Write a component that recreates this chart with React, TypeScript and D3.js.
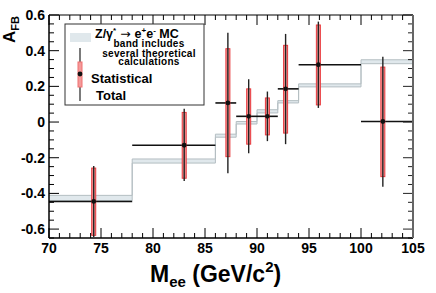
import * as d3 from 'd3'

// bin edges in Mee (GeV/c^2)
const binEdges = [70, 78, 86, 88, 90, 92, 94, 100, 105]
// MC band (Z/gamma* -> ee), low/high per bin
const mcLow = [-0.44, -0.23, -0.085, -0.011, 0.051, 0.107, 0.197, 0.327]
const mcHigh = [-0.411, -0.207, -0.068, 0.003, 0.069, 0.12, 0.214, 0.349]

// measured points
const massCenters = [74.3, 83.0, 87.2, 89.2, 91.0, 92.75, 95.9, 102.1]
const afb = [-0.445, -0.13, 0.107, 0.032, 0.032, 0.186, 0.321, 0.003]
const statLow = [-0.635, -0.315, -0.194, -0.124, -0.072, -0.062, 0.096, -0.306]
const statHigh = [-0.258, 0.054, 0.411, 0.186, 0.135, 0.43, 0.544, 0.308]
const totalLow = [-0.645, -0.33, -0.287, -0.175, -0.107, -0.124, 0.079, -0.363]
const totalHigh = [-0.246, 0.075, 0.501, 0.24, 0.171, 0.494, 0.563, 0.366]

const xTicks = [70, 75, 80, 85, 90, 95, 100, 105]
const yTicks = [-0.6, -0.4, -0.2, 0, 0.2, 0.4, 0.6]

const W = 436
const H = 293
const left = 49
const right = 413
const top = 15
const bottom = 238
const font = '"Liberation Sans", Arial, Helvetica, sans-serif'

export default function App() {
  const x = d3.scaleLinear().domain([70, 105]).range([left, right])
  const y = d3.scaleLinear().domain([-0.65, 0.6]).range([bottom, top])

  const bandPts = binEdges.map((e, i) => ({
    x: e,
    lo: mcLow[Math.min(i, mcLow.length - 1)],
    hi: mcHigh[Math.min(i, mcHigh.length - 1)],
  }))
  const area = d3
    .area<{ x: number; lo: number; hi: number }>()
    .x((d) => x(d.x))
    .y0((d) => y(d.lo))
    .y1((d) => y(d.hi))
    .curve(d3.curveStepAfter)
  const lineLo = d3
    .line<{ x: number; lo: number; hi: number }>()
    .x((d) => x(d.x))
    .y((d) => y(d.lo))
    .curve(d3.curveStepAfter)
  const lineHi = d3
    .line<{ x: number; lo: number; hi: number }>()
    .x((d) => x(d.x))
    .y((d) => y(d.hi))
    .curve(d3.curveStepAfter)

  const xMinor = d3.range(70, 105.01, 1)
  const yMinor = d3.range(-0.65, 0.601, 0.05)

  return (
    <svg width={W} height={H} style={{ position: 'absolute', left: 0, top: 0, background: '#fff' }} fontFamily={font}>
      <rect width={W} height={H} fill="#fff" />

      {/* MC band */}
      <path d={area(bandPts) ?? ''} fill="#e0e8ec" stroke="none" />
      <path d={lineLo(bandPts) ?? ''} fill="none" stroke="#b4bec2" strokeWidth={1} />
      <path d={lineHi(bandPts) ?? ''} fill="none" stroke="#b4bec2" strokeWidth={1} />

      {/* horizontal bin widths */}
      {afb.map((v, i) => (
        <line
          key={'h' + i}
          x1={x(binEdges[i])}
          x2={x(binEdges[i + 1])}
          y1={y(v)}
          y2={y(v)}
          stroke="#111"
          strokeWidth={1.6}
        />
      ))}

      {/* statistical boxes */}
      {afb.map((_, i) => (
        <rect
          key={'s' + i}
          x={x(massCenters[i]) - 2}
          y={y(statHigh[i])}
          width={4}
          height={y(statLow[i]) - y(statHigh[i])}
          fill="#f49a9a"
          stroke="#e8383c"
          strokeWidth={1}
        />
      ))}

      {/* total errors */}
      {afb.map((_, i) => (
        <line
          key={'t' + i}
          x1={x(massCenters[i])}
          x2={x(massCenters[i])}
          y1={y(totalHigh[i])}
          y2={y(totalLow[i])}
          stroke="#222"
          strokeWidth={1.4}
        />
      ))}

      {afb.map((v, i) => (
        <circle key={'p' + i} cx={x(massCenters[i])} cy={y(v)} r={2.4} fill="#111" />
      ))}

      {/* ticks */}
      {xMinor.map((t) => {
        const major = Math.abs(t % 5) < 1e-6
        const len = major ? 10 : 5
        return (
          <g key={'xt' + t}>
            <line x1={x(t)} x2={x(t)} y1={bottom} y2={bottom - len} stroke="#000" strokeWidth={1} />
            <line x1={x(t)} x2={x(t)} y1={top} y2={top + len} stroke="#000" strokeWidth={1} />
          </g>
        )
      })}
      {yMinor.map((t) => {
        const major = Math.abs(Math.round(t * 100) % 20) < 1e-6
        const len = major ? 10 : 5
        return (
          <g key={'yt' + t.toFixed(2)}>
            <line x1={left} x2={left + len} y1={y(t)} y2={y(t)} stroke="#000" strokeWidth={1} />
            <line x1={right} x2={right - len} y1={y(t)} y2={y(t)} stroke="#222" strokeWidth={1} />
          </g>
        )
      })}

      {/* frame */}
      <line x1={left} x2={right} y1={top} y2={top} stroke="#000" strokeWidth={1.2} />
      <line x1={left} x2={right} y1={bottom} y2={bottom} stroke="#000" strokeWidth={1.5} />
      <line x1={left} x2={left} y1={top} y2={bottom} stroke="#000" strokeWidth={1.5} />
      <line x1={right} x2={right} y1={top} y2={bottom} stroke="#666" strokeWidth={2} />

      {/* tick labels */}
      {xTicks.map((t) => (
        <text key={'xl' + t} x={x(t)} y={253} textAnchor="middle" fontSize={14} fontWeight="bold">
          {t}
        </text>
      ))}
      {yTicks.map((t) => (
        <text key={'yl' + t} x={45} y={y(t) + 5} textAnchor="end" fontSize={14} fontWeight="bold">
          {t === 0 ? '0' : t.toFixed(1)}
        </text>
      ))}

      {/* axis titles */}
      <text x={150} y={282} fontSize={23} fontWeight="bold">
        M<tspan fontSize={15} dy={5}>ee</tspan>
        <tspan dy={-5}> (GeV/c</tspan>
        <tspan fontSize={15} dy={-10}>2</tspan>
        <tspan dy={10}>)</tspan>
      </text>
      <text transform="translate(15,43) rotate(-90)" fontSize={17} fontWeight="bold">
        A<tspan fontSize={11} dy={4}>FB</tspan>
      </text>

      {/* legend */}
      <rect x={65} y={24} width={139} height={81} fill="#fff" stroke="#333" strokeWidth={1} />
      <rect x={70} y={33} width={21} height={9} fill="#e0e8ec" />
      <text x={95} y={38} fontSize={12.5} fontWeight="bold">
        Z/γ<tspan fontSize={8} dy={-5}>*</tspan>
        <tspan dy={5} fontFamily="DejaVu Sans" fontWeight="normal"> → </tspan>
        <tspan>e</tspan>
        <tspan fontSize={8} dy={-5}>+</tspan>
        <tspan dy={5}>e</tspan>
        <tspan fontSize={8} dy={-5}>-</tspan>
        <tspan dy={5}> MC</tspan>
      </text>
      <text x={149} y={47} fontSize={10} fontWeight="bold" textAnchor="middle" letterSpacing={0.3}>band includes</text>
      <text x={149} y={56.5} fontSize={10} fontWeight="bold" textAnchor="middle" letterSpacing={0.3}>several theoretical</text>
      <text x={149} y={65} fontSize={10} fontWeight="bold" textAnchor="middle" letterSpacing={0.3}>calculations</text>
      <line x1={80} x2={80} y1={48} y2={101} stroke="#222" strokeWidth={1.2} />
      <rect x={78} y={62} width={4} height={25} fill="#f49a9a" stroke="#f07070" strokeWidth={1} />
      <circle cx={80} cy={74} r={2.4} fill="#111" />
      <text x={91} y={83} fontSize={13} fontWeight="bold">Statistical</text>
      <text x={96} y={100} fontSize={13} fontWeight="bold">Total</text>
    </svg>
  )
}
